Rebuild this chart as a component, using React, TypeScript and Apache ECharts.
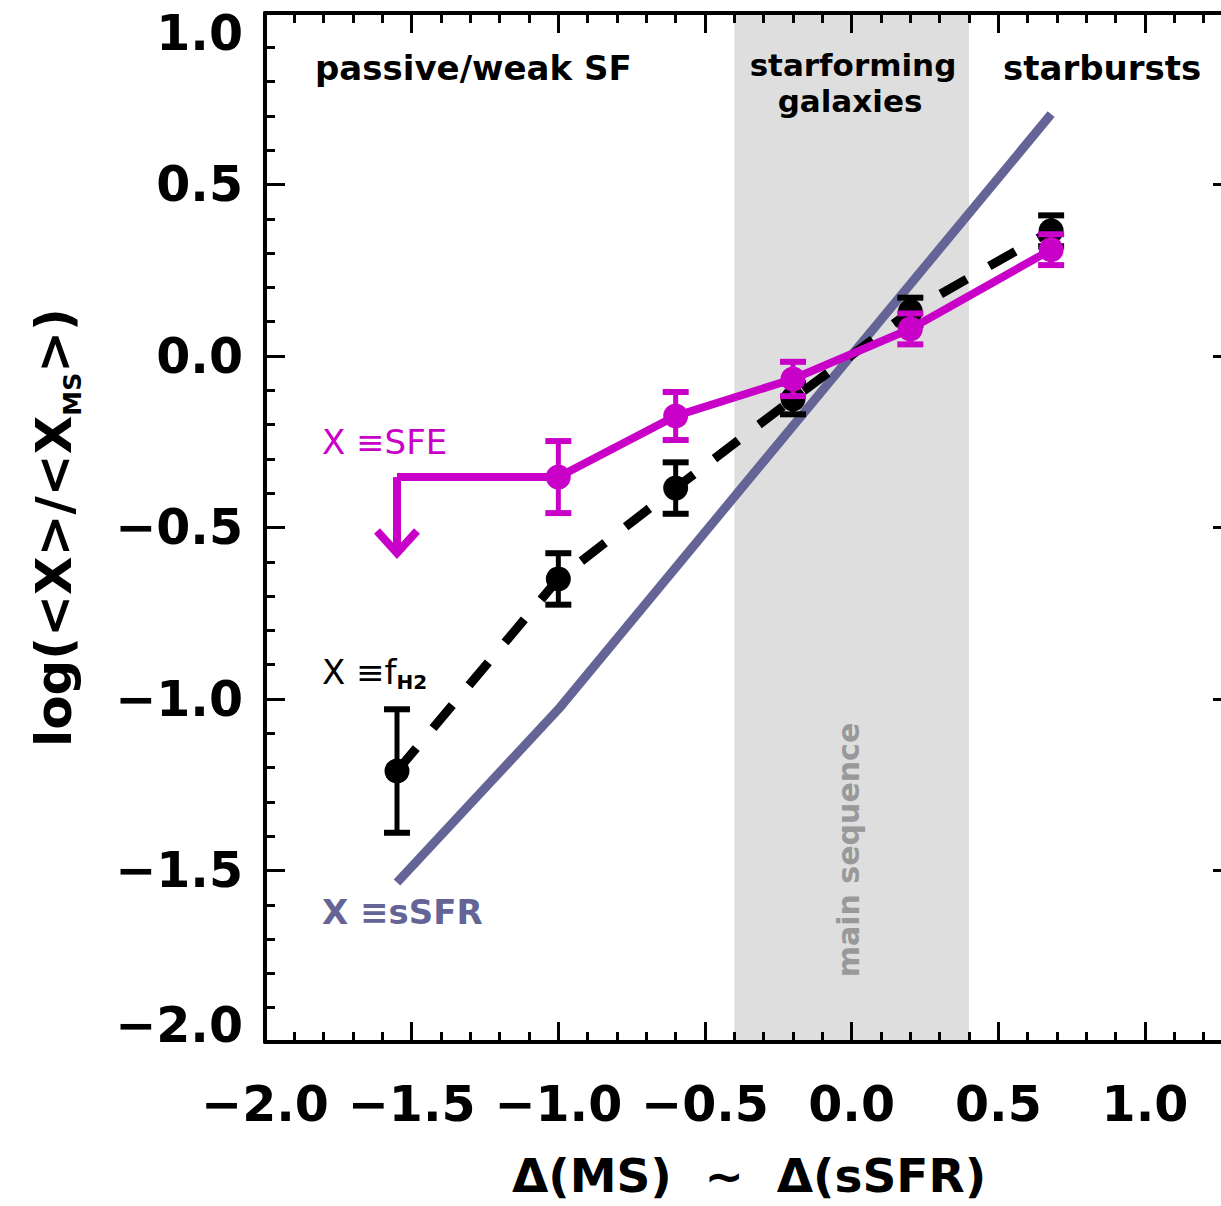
import React, { useEffect, useRef } from 'react';
import * as echarts from 'echarts';

// ---------- data ----------
const xTickMin = -2.0;
const xTickMax = 1.3;
const yTickMin = -2.0;
const yTickMax = 1.0;

// X = f_H2 (black, dashed)
const fh2X = [-1.55, -1.0, -0.6, -0.2, 0.2, 0.68];
const fh2Y = [-1.21, -0.65, -0.385, -0.125, 0.13, 0.365];
const fh2Err = [0.18, 0.075, 0.075, 0.045, 0.04, 0.045];

// X = SFE (magenta, solid)
const sfeX = [-1.0, -0.6, -0.2, 0.2, 0.68];
const sfeY = [-0.353, -0.175, -0.067, 0.079, 0.31];
const sfeErr = [0.105, 0.07, 0.05, 0.045, 0.045];
// upper limit for SFE
const sfeLimitX = [-1.55];
const sfeLimitY = [-0.353];
const sfeLimitLen = [0.23];

// X = sSFR (slate line)
const ssfrX = [-1.55, -1.0, 0.68];
const ssfrY = [-1.535, -1.03, 0.705];

// main-sequence band
const msBand = [-0.4, 0.4];

const FONT = 'DejaVu Sans';
const MAGENTA = '#c800c8';
const SLATE = '#646496';
const BLACK = '#000000';

const fmt = (v: number) => {
  const s = Math.abs(v).toFixed(1);
  return v < 0 ? '\u2212' + s : s;
};

function errRender(color: string) {
  return (params: any, api: any) => {
    const x = api.value(0);
    const y = api.value(1);
    const e = api.value(2);
    const top = api.coord([x, y + e]);
    const bot = api.coord([x, y - e]);
    const hw = 13;
    return {
      type: 'group',
      children: [
        { type: 'line', shape: { x1: top[0], y1: top[1], x2: bot[0], y2: bot[1] }, style: { stroke: color, lineWidth: 5 } },
        { type: 'line', shape: { x1: top[0] - hw, y1: top[1], x2: top[0] + hw, y2: top[1] }, style: { stroke: color, lineWidth: 6 } },
        { type: 'line', shape: { x1: bot[0] - hw, y1: bot[1], x2: bot[0] + hw, y2: bot[1] }, style: { stroke: color, lineWidth: 6 } },
      ],
    };
  };
}

function arrowRender(params: any, api: any) {
  const x = api.value(0);
  const y = api.value(1);
  const len = api.value(2);
  const start = api.coord([x, y]);
  const tip = api.coord([x, y - len]);
  return {
    type: 'group',
    children: [
      { type: 'line', shape: { x1: start[0], y1: start[1], x2: tip[0], y2: tip[1] - 2 }, style: { stroke: MAGENTA, lineWidth: 8 } },
      {
        type: 'polyline',
        shape: { points: [[tip[0] - 20, tip[1] - 25], [tip[0], tip[1] - 3], [tip[0] + 20, tip[1] - 25]] },
        style: { stroke: MAGENTA, lineWidth: 8, fill: 'none', lineJoin: 'miter' },
      },
    ],
  };
}

const axisCommon = {
  type: 'value' as const,
  z: 10,
  splitLine: { show: false },
  axisLine: { show: true, onZero: false, lineStyle: { color: BLACK, width: 4 } },
  axisTick: { show: true, inside: true, length: 20, lineStyle: { color: BLACK, width: 3 } },
  minorTick: { show: true, splitNumber: 5, length: 10, lineStyle: { color: BLACK, width: 3 } },
};

const labelStyle = { fontFamily: FONT, fontWeight: 'bold' as const, fontSize: 49, color: BLACK };
const annot = { fontFamily: FONT, fontWeight: 'bold' as const, fontSize: 34, fill: BLACK };

export default function App() {
  const ref = useRef<HTMLDivElement>(null);
  useEffect(() => {
    document.body.style.margin = '0';
    document.body.style.overflow = 'hidden';
    const chart = echarts.init(ref.current!, undefined, { renderer: 'svg' });

    const fh2Data = fh2X.map((x, i) => [x, fh2Y[i]]);
    const fh2ErrData = fh2X.map((x, i) => [x, fh2Y[i], fh2Err[i]]);
    const sfeData: any[] = [
      { value: [sfeLimitX[0], sfeLimitY[0]], symbol: 'none' },
      ...sfeX.map((x, i) => [x, sfeY[i]]),
    ];
    const sfeErrData = sfeX.map((x, i) => [x, sfeY[i], sfeErr[i]]);
    const ssfrData = ssfrX.map((x, i) => [x, ssfrY[i]]);
    const arrowData = sfeLimitX.map((x, i) => [x, sfeLimitY[i], sfeLimitLen[i]]);

    chart.setOption({
      animation: false,
      backgroundColor: '#ffffff',
      grid: { left: 265, top: 13, width: 968, height: 1029, containLabel: false },
      xAxis: [
        {
          ...axisCommon,
          position: 'bottom',
          min: xTickMin,
          max: xTickMax,
          interval: 0.5,
          axisLabel: { ...labelStyle, margin: 38, showMaxLabel: false, formatter: (v: number) => fmt(v) },
          name: 'Δ(MS)  ~  Δ(sSFR)',
          nameLocation: 'middle',
          nameGap: 110,
          nameTextStyle: { fontFamily: FONT, fontWeight: 'bold', fontSize: 47, color: BLACK },
        },
        {
          ...axisCommon,
          position: 'top',
          min: xTickMin,
          max: xTickMax,
          interval: 0.5,
          axisLabel: { show: false },
        },
      ],
      yAxis: [
        {
          ...axisCommon,
          position: 'left',
          min: yTickMin,
          max: yTickMax,
          interval: 0.5,
          axisLabel: {
            ...labelStyle,
            margin: 22,
            formatter: (v: number) => (v === yTickMax ? '{top|' + fmt(v) + '}' : v === yTickMin ? '{bot|' + fmt(v) + '}' : fmt(v)),
            rich: {
              top: { ...labelStyle, padding: [40, 0, 0, 0] },
              bot: { ...labelStyle, padding: [0, 0, 34, 0] },
            },
          },
          name: '{a|log(<X>/<X}{s|MS}{a|>)}',
          nameLocation: 'middle',
          nameGap: 180,
          nameRotate: 90,
          nameTextStyle: {
            rich: {
              a: { fontFamily: FONT, fontWeight: 'bold', fontSize: 50, color: BLACK, lineHeight: 62, verticalAlign: 'middle' },
              s: { fontFamily: FONT, fontWeight: 'bold', fontSize: 25, color: BLACK, lineHeight: 25, verticalAlign: 'bottom' },
            },
          },
        },
        {
          ...axisCommon,
          position: 'right',
          min: yTickMin,
          max: yTickMax,
          interval: 0.5,
          axisLabel: { show: false },
        },
      ],
      series: [
        {
          type: 'line',
          z: 1,
          data: [],
          silent: true,
          markArea: {
            silent: true,
            itemStyle: { color: '#dedede' },
            data: [[{ xAxis: msBand[0] }, { xAxis: msBand[1] }]],
          },
        },
        {
          type: 'line',
          name: 'sSFR',
          z: 2,
          data: ssfrData,
          symbol: 'none',
          lineStyle: { color: SLATE, width: 9, cap: 'butt' },
        },
        {
          type: 'line',
          name: 'fH2',
          z: 3,
          data: fh2Data,
          symbol: 'none',
          lineStyle: { color: BLACK, width: 9, type: [30, 26], cap: 'butt' },
        },
        {
          type: 'custom',
          name: 'fH2 err',
          z: 4,
          data: fh2ErrData,
          encode: { x: 0, y: 1 },
          renderItem: errRender(BLACK),
        },
        {
          type: 'scatter',
          name: 'fH2 pts',
          z: 5,
          data: fh2Data,
          symbol: 'circle',
          symbolSize: 25,
          itemStyle: { color: BLACK, opacity: 1 },
        },
        {
          type: 'line',
          name: 'SFE',
          z: 6,
          data: sfeData,
          symbol: 'circle',
          symbolSize: 25,
          showAllSymbol: true,
          itemStyle: { color: MAGENTA, opacity: 1 },
          lineStyle: { color: MAGENTA, width: 8, join: 'miter' },
        },
        {
          type: 'custom',
          name: 'SFE err',
          z: 7,
          data: sfeErrData,
          encode: { x: 0, y: 1 },
          renderItem: errRender(MAGENTA),
        },
        {
          type: 'custom',
          name: 'SFE limit',
          z: 7,
          data: arrowData,
          encode: { x: 0, y: 1 },
          renderItem: arrowRender,
        },
      ],
      graphic: [
        { type: 'text', z: 20, x: 315, y: 68, style: { ...annot, text: 'passive/weak SF', align: 'left', verticalAlign: 'middle' } },
        { type: 'text', z: 20, x: 853, y: 65, style: { ...annot, fontSize: 31, text: 'starforming', align: 'center', verticalAlign: 'middle' } },
        { type: 'text', z: 20, x: 850, y: 101, style: { ...annot, fontSize: 31, text: 'galaxies', align: 'center', verticalAlign: 'middle' } },
        { type: 'text', z: 20, x: 1003, y: 68, style: { ...annot, text: 'starbursts', align: 'left', verticalAlign: 'middle' } },
        { type: 'text', z: 20, x: 322, y: 442, style: { text: 'X ≡SFE', align: 'left', verticalAlign: 'middle', fontFamily: FONT, fontSize: 34, fill: MAGENTA } },
        {
          type: 'text', z: 20, x: 322, y: 672,
          style: {
            text: '{a|X ≡f}{s|H2}', align: 'left', verticalAlign: 'middle',
            rich: {
              a: { fontFamily: FONT, fontSize: 34, fill: BLACK, lineHeight: 40, verticalAlign: 'middle' },
              s: { fontFamily: FONT, fontWeight: 'bold', fontSize: 20, fill: BLACK, lineHeight: 14, verticalAlign: 'bottom' },
            },
          },
        },
        { type: 'text', z: 20, x: 322, y: 912, style: { text: 'X ≡sSFR', align: 'left', verticalAlign: 'middle', fontFamily: FONT, fontWeight: 'bold', fontSize: 34, fill: SLATE } },
        { type: 'text', z: 20, x: 848, y: 850, rotation: Math.PI / 2, style: { text: 'main sequence', align: 'center', verticalAlign: 'middle', fontFamily: FONT, fontWeight: 'bold', fontSize: 30, fill: '#999999' } },
      ],
    });
    return () => chart.dispose();
  }, []);

  return (
    <div style={{ width: 1221, height: 1206, overflow: 'hidden', position: 'relative', background: '#fff' }}>
      <div ref={ref} style={{ width: 1250, height: 1206, position: 'absolute', left: 0, top: 0 }} />
    </div>
  );
}
